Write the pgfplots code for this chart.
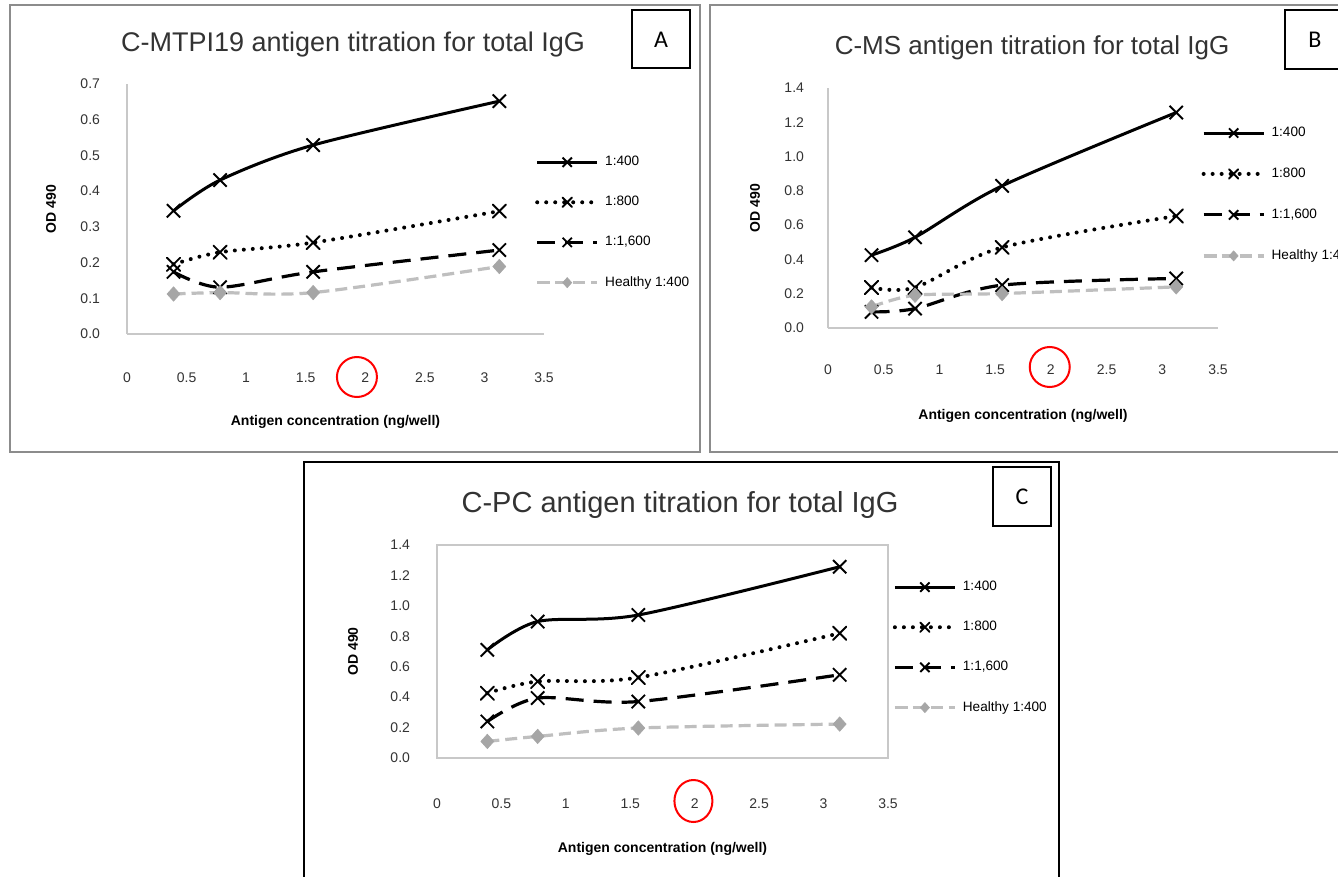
\documentclass[border=0pt]{standalone}
\usepackage{fontspec}
\setmainfont{Liberation Sans}
\newfontfamily\carlito{Carlito}
\usepackage{pgfplots}
\pgfplotsset{compat=1.18}

\definecolor{framegray}{HTML}{8C8C8C}
\definecolor{axgray}{HTML}{C8C8C8}
\definecolor{hline}{HTML}{BFBFBF}
\definecolor{hmark}{HTML}{A6A6A6}
\definecolor{txt}{HTML}{333333}

\pgfplotsset{
  s400/.style={black, line width=1.5pt, smooth, mark=x, mark size=4.7pt, mark options={solid, line width=0.95pt}},
  s800/.style={black, line width=2pt, line cap=round, dash pattern=on 0pt off 4.5pt, smooth, mark=x, mark size=4.7pt, mark options={solid, line width=0.95pt}},
  s1600/.style={black, line width=1.6pt, dash pattern=on 9pt off 5pt, smooth, mark=x, mark size=4.7pt, mark options={solid, line width=0.95pt}},
  shl/.style={hline, line width=1.6pt, dash pattern=on 6pt off 3pt, smooth, mark=diamond*, mark size=3.6pt, mark options={solid, xscale=1.2, draw=hmark, fill=hmark, line width=0.3pt}},
  panel/.style={
    scale only axis, anchor=south west,
    xmin=0, xmax=3.5, ymin=0,
    xtick={0,0.5,1,1.5,2,2.5,3,3.5},
    tick style={draw=none},
    axis line style={draw=axgray, line width=0.8pt},
    ticklabel style={font=\fontsize{7}{8}\selectfont, text=txt},
    /pgf/number format/assume math mode=true,
    yticklabel style={/pgf/number format/fixed, /pgf/number format/fixed zerofill, /pgf/number format/precision=1},
    xlabel={Antigen concentration (ng/well)},
    ylabel={OD 490},
    label style={font=\bfseries\fontsize{7}{8}\selectfont},
    clip=false,
    legend cell align=left,
    legend style={draw=none, fill=none, inner sep=0pt, row sep=9.8pt, column sep=1pt,
      font=\fontsize{6.8}{8}\selectfont, anchor=west},
    legend image code/.code={\draw[mark repeat=2, mark phase=2, ##1, every mark/.append style={scale=0.7}]
      plot coordinates {(0pt,0pt) (15pt,0pt) (30pt,0pt)};},
  }
}

\begin{document}
\begin{tikzpicture}
\path[use as bounding box] (0,0) rectangle (669pt,-438.5pt);
\clip (0,0) rectangle (669pt,-438.5pt);
\fill[white] (0,0) rectangle (669pt,-438.5pt);

% panel frames
\draw[framegray, line width=1pt] (5pt,-2.5pt) rectangle (350pt,-226pt);
\draw[framegray, line width=1pt] (355pt,-2.5pt) rectangle (675pt,-226pt);
\draw[black, line width=1pt] (152pt,-231pt) rectangle (529.5pt,-445pt);

% letter boxes
\draw[black, line width=1pt] (316pt,-5pt) rectangle (345pt,-34pt);
\node[font=\carlito\fontsize{12}{14}\selectfont] at (330.5pt,-20pt) {A};
\draw[black, line width=1pt] (642.5pt,-5pt) rectangle (672pt,-34.5pt);
\node[font=\carlito\fontsize{12}{14}\selectfont] at (657.5pt,-20pt) {B};
\draw[black, line width=1pt] (496.5pt,-233.5pt) rectangle (525.5pt,-263pt);
\node[font=\carlito\fontsize{12}{14}\selectfont] at (511pt,-248.5pt) {C};

% titles
\node[font=\fontsize{13.5}{16}\selectfont, text=txt] at (176.5pt,-22.5pt) {C-MTPI19 antigen titration for total IgG};
\node[font=\fontsize{13}{16}\selectfont, text=txt] at (516pt,-24pt) {C-MS antigen titration for total IgG};
\node[font=\fontsize{14.5}{17}\selectfont, text=txt] at (340pt,-252.5pt) {C-PC antigen titration for total IgG};

% ---- A ----
\begin{axis}[panel, at={(63.5pt,-167pt)}, width=208.5pt, height=125pt,
  ymax=0.7, ytick={0,0.1,0.2,0.3,0.4,0.5,0.6,0.7},
  axis x line*=bottom, axis y line*=left,
  xticklabel style={yshift=-16pt}, yticklabel style={xshift=-10pt},
  xlabel style={at={(axis description cs:0.5,-0.352)}, anchor=center},
  ylabel style={at={(axis description cs:-0.182,0.5)}, anchor=center},
  legend style={at={(0.978,0.446)}}]
\addplot[s400] coordinates {(0.390625,0.345) (0.78125,0.431) (1.5625,0.529) (3.125,0.652)};
\addlegendentry{1:400}
\addplot[s800] coordinates {(0.390625,0.195) (0.78125,0.229) (1.5625,0.256) (3.125,0.344)};
\addlegendentry{1:800}
\addplot[s1600] coordinates {(0.390625,0.174) (0.78125,0.131) (1.5625,0.174) (3.125,0.235)};
\addlegendentry{1:1,600}
\addplot[shl] coordinates {(0.390625,0.112) (0.78125,0.116) (1.5625,0.116) (3.125,0.189)};
\addlegendentry{Healthy 1:400}
\draw[red, line width=1pt] ([yshift=-21.5pt]axis cs:1.93,0) circle[radius=10pt];
\end{axis}

% ---- B ----
\begin{axis}[panel, at={(414pt,-164pt)}, width=195pt, height=120pt,
  ymax=1.4, ytick={0,0.2,0.4,0.6,0.8,1.0,1.2,1.4},
  axis x line*=bottom, axis y line*=left,
  xticklabel style={yshift=-15pt}, yticklabel style={xshift=-8.5pt},
  xlabel style={at={(axis description cs:0.5,-0.367)}, anchor=center},
  ylabel style={at={(axis description cs:-0.187,0.5)}, anchor=center},
  legend style={at={(0.957,0.556)}, row sep=10.2pt}]
\addplot[s400] coordinates {(0.390625,0.425) (0.78125,0.529) (1.5625,0.829) (3.125,1.257)};
\addlegendentry{1:400}
\addplot[s800] coordinates {(0.390625,0.236) (0.78125,0.236) (1.5625,0.470) (3.125,0.653)};
\addlegendentry{1:800}
\addplot[s1600] coordinates {(0.390625,0.094) (0.78125,0.113) (1.5625,0.250) (3.125,0.289)};
\addlegendentry{1:1,600}
\addplot[shl] coordinates {(0.390625,0.123) (0.78125,0.191) (1.5625,0.201) (3.125,0.240)};
\addlegendentry{Healthy 1:400}
\draw[red, line width=1pt] ([yshift=-19.5pt]axis cs:1.99,0) circle[radius=10pt];
\end{axis}

% ---- C ----
\begin{axis}[panel, at={(218.5pt,-379pt)}, width=225.5pt, height=106.5pt,
  ymax=1.4, ytick={0,0.2,0.4,0.6,0.8,1.0,1.2,1.4},
  xticklabel style={yshift=-17pt}, yticklabel style={xshift=-10pt},
  xlabel style={at={(axis description cs:0.5,-0.427)}, anchor=center},
  ylabel style={at={(axis description cs:-0.186,0.5)}, anchor=center},
  legend style={at={(1.01,0.519)}}]
\addplot[s400] coordinates {(0.390625,0.711) (0.78125,0.897) (1.5625,0.940) (3.125,1.257)};
\addlegendentry{1:400}
\addplot[s800] coordinates {(0.390625,0.426) (0.78125,0.503) (1.5625,0.529) (3.125,0.820)};
\addlegendentry{1:800}
\addplot[s1600] coordinates {(0.390625,0.240) (0.78125,0.394) (1.5625,0.371) (3.125,0.547)};
\addlegendentry{1:1,600}
\addplot[shl] coordinates {(0.390625,0.109) (0.78125,0.142) (1.5625,0.197) (3.125,0.223)};
\addlegendentry{Healthy 1:400}
\draw[red, line width=1pt] ([yshift=-21.5pt]axis cs:1.99,0) ellipse[x radius=9.5pt, y radius=10.5pt];
\end{axis}
\end{tikzpicture}
\end{document}
